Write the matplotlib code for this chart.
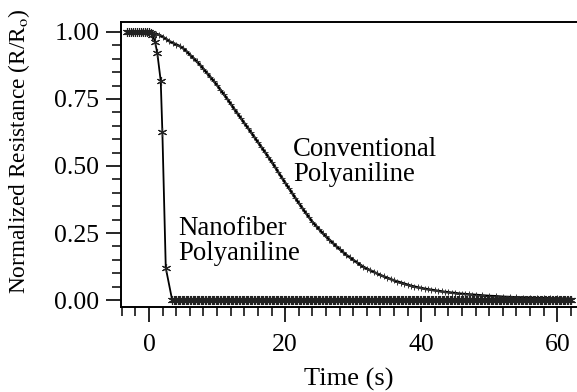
import numpy as np
import matplotlib
matplotlib.use("Agg")
import matplotlib.pyplot as plt
from matplotlib.ticker import MultipleLocator

plt.rcParams['font.family'] = ['Liberation Serif', 'DejaVu Serif']
plt.rcParams['mathtext.fontset'] = 'stix'

# conventional polyaniline
conv_t = list(np.arange(-3.0, 48.5, 0.5)) + [49, 50, 51, 52, 53, 54, 55, 56, 57, 58, 59, 60, 61, 62]
conv_r = [1.0, 1.0, 1.0, 1.0, 1.0, 1.0,
          0.998, 0.996, 0.993, 0.989, 0.982, 0.974, 0.965, 0.959, 0.953, 0.947,
          0.939, 0.928, 0.915, 0.903, 0.890, 0.877, 0.862, 0.847, 0.832, 0.817,
          0.801, 0.784, 0.767, 0.750, 0.732, 0.713, 0.696, 0.678, 0.660, 0.643,
          0.625, 0.607, 0.589, 0.571, 0.553, 0.535, 0.516, 0.497, 0.477, 0.457,
          0.438, 0.419, 0.400, 0.381, 0.362, 0.344, 0.326, 0.309, 0.292, 0.278,
          0.264, 0.250, 0.237, 0.225, 0.213, 0.201, 0.190, 0.179, 0.168, 0.159,
          0.150, 0.141, 0.132, 0.124, 0.117, 0.111, 0.105, 0.099, 0.093, 0.088,
          0.083, 0.078, 0.073, 0.069, 0.065, 0.061, 0.057, 0.053, 0.050, 0.047,
          0.045, 0.042, 0.040, 0.038, 0.036, 0.034, 0.032, 0.030, 0.029, 0.027,
          0.026, 0.024, 0.023, 0.022, 0.021, 0.020, 0.019,
          0.017, 0.015, 0.014, 0.012, 0.011, 0.010, 0.009, 0.008, 0.007, 0.007,
          0.006, 0.006, 0.005, 0.005]

# nanofiber polyaniline
nano_t = [-3.3, -3.0, -2.7, -2.4, -2.1, -1.8, -1.5, -1.2, -0.9, -0.6, -0.3, 0.0, 0.25,
          0.5, 0.88, 1.22, 1.72, 1.96, 2.46, 3.4]
nano_r = [1.0, 1.0, 1.0, 1.0, 1.0, 1.0, 1.0, 1.0, 1.0, 1.0, 1.0, 1.0, 0.995,
          0.989, 0.964, 0.92, 0.817, 0.628, 0.12, 0.0]
# baseline after the drop (all zero)
base_t = np.arange(3.6, 62.2, 0.2)
base_r = np.zeros(len(base_t))

fig = plt.figure(figsize=(5.77, 3.92), dpi=100)
ax = fig.add_axes([0.2097, 0.2168, 0.7903, 0.7271])

ast = (6, 2, 0)
ax.plot(conv_t, conv_r, color='black', lw=1.8, marker='+', ms=4.5, mew=0.7, mec='#333333')
ax.plot(list(nano_t) + list(base_t), list(nano_r) + list(base_r), color='black', lw=1.3,
        marker=ast, ms=6.5, mew=0.8, mec='#222222')

ax.set_xlim(-4.12, 62.9)
ax.set_ylim(-0.026, 1.037)
ax.xaxis.set_major_locator(MultipleLocator(20))
ax.xaxis.set_minor_locator(MultipleLocator(2))
ax.yaxis.set_major_locator(MultipleLocator(0.25))
ax.yaxis.set_minor_locator(MultipleLocator(0.05))
ax.yaxis.set_major_formatter(matplotlib.ticker.FormatStrFormatter('%.2f'))

ax.spines['right'].set_visible(False)
for s in ['left', 'top', 'bottom']:
    ax.spines[s].set_linewidth(1.4)
ax.tick_params(which='major', direction='out', length=10.5, width=1.2, labelsize=18.5)
ax.tick_params(which='minor', direction='out', length=6.5, width=1.1)
ax.tick_params(axis='x', pad=9)
ax.tick_params(axis='y', pad=5)

ax.set_xlabel('Time (s)', fontsize=19)
ax.set_ylabel('Normalized Resistance (R/R$_\\mathrm{o}$)', fontsize=16.8)
ax.xaxis.set_label_coords(0.5, -0.214)
ax.yaxis.set_label_coords(-0.195, 0.548)

ax.text(21.2, 0.515, 'Conventional\nPolyaniline', fontsize=19.3, ha='left', va='center',
        linespacing=1.0)
ax.text(4.3, 0.22, 'Nanofiber\nPolyaniline', fontsize=19.3, ha='left', va='center',
        linespacing=1.0)

fig.savefig('out.png', dpi=100)
